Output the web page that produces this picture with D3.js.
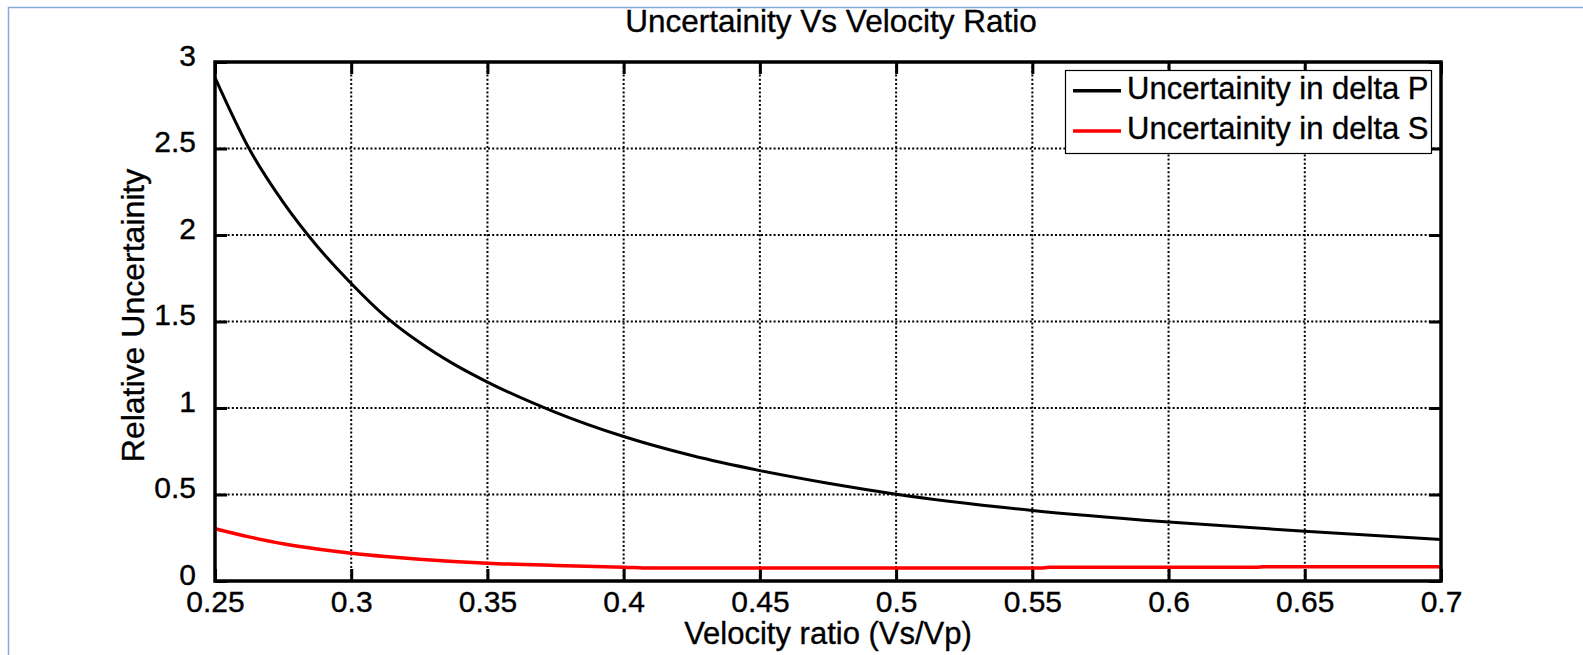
<!DOCTYPE html>
<html>
<head>
<meta charset="utf-8">
<script src="https://cdn.jsdelivr.net/npm/d3@7"></script>
<style>
    body { margin: 0; background: #fff; }
    svg { display: block; font-family: "Liberation Sans", Arial, Helvetica, sans-serif; }
    text { stroke: #000; stroke-width: 0.35px; }
</style>
</head>
<body>
<svg id="chart"></svg>
<script>
// values
const pRatio = [0.25, 0.2625, 0.275, 0.2875, 0.3, 0.3125, 0.325, 0.3375, 0.35, 0.375, 0.4, 0.425, 0.45, 0.475, 0.5, 0.55, 0.6, 0.65, 0.7];
const pUncert = [2.91, 2.50, 2.19, 1.935, 1.72, 1.53, 1.38, 1.255, 1.15, 0.975, 0.835, 0.725, 0.638, 0.565, 0.502, 0.408, 0.341, 0.287, 0.240];

const sRatio = [0.25, 0.2625, 0.275, 0.2875, 0.3, 0.3125, 0.325, 0.3375, 0.35, 0.375, 0.4, 0.41, 0.5, 0.553, 0.556, 0.632, 0.635, 0.7];
const sUncert = [0.302, 0.255, 0.215, 0.185, 0.161, 0.142, 0.126, 0.113, 0.103, 0.09, 0.08, 0.075, 0.075, 0.075, 0.079, 0.079, 0.083, 0.083];

const xTicks = [0.25, 0.3, 0.35, 0.4, 0.45, 0.5, 0.55, 0.6, 0.65, 0.7];
const yTicks = [0, 0.5, 1, 1.5, 2, 2.5, 3];
const xTickLabels = ["0.25", "0.3", "0.35", "0.4", "0.45", "0.5", "0.55", "0.6", "0.65", "0.7"];
const yTickLabels = ["0", "0.5", "1", "1.5", "2", "2.5", "3"];

const seriesNames = ["Uncertainity in delta P", "Uncertainity in delta S"];
const seriesColors = ["#000000", "#ff0000"];

const W = 1583, H = 655;
const margin = { top: 62, right: 142, bottom: 74, left: 215 };
const width = W - margin.left - margin.right;
const height = H - margin.top - margin.bottom;

const svg = d3.select("#chart").attr("width", W).attr("height", H);

// light blue frame around the figure
svg.append("rect")
    .attr("x", 8.5).attr("y", 7.5)
    .attr("width", W + 20).attr("height", H + 20)
    .attr("fill", "none").attr("stroke", "#86abdb").attr("stroke-width", 1.5);

const g = svg.append("g").attr("transform", `translate(${margin.left}, ${margin.top})`);

const x = d3.scaleLinear().domain([0.25, 0.7]).range([0, width]);
const y = d3.scaleLinear().domain([0, 3]).range([height, 0]);

// dotted grid
g.append("g").selectAll("line").data(xTicks.slice(1, -1)).join("line")
    .attr("x1", d => x(d)).attr("x2", d => x(d))
    .attr("y1", 0).attr("y2", height)
    .attr("stroke", "#000").attr("stroke-width", 2).attr("stroke-dasharray", "2,2.2");
g.append("g").selectAll("line").data(yTicks.slice(1, -1)).join("line")
    .attr("x1", 0).attr("x2", width)
    .attr("y1", d => y(d)).attr("y2", d => y(d))
    .attr("stroke", "#000").attr("stroke-width", 2).attr("stroke-dasharray", "2,2.2");

// axes, ticks pointing inward
const tickLen = 12;
const xAxis = g.append("g").attr("transform", `translate(0, ${height})`)
    .call(d3.axisBottom(x).tickValues(xTicks).tickSize(-tickLen).tickPadding(28)
        .tickFormat((d, i) => xTickLabels[i]));
const xAxisTop = g.append("g")
    .call(d3.axisTop(x).tickValues(xTicks).tickSize(-tickLen).tickFormat(""));
const yAxis = g.append("g")
    .call(d3.axisLeft(y).tickValues(yTicks).tickSize(-tickLen).tickPadding(tickLen + 7)
        .tickFormat((d, i) => yTickLabels[i]));
const yAxisRight = g.append("g").attr("transform", `translate(${width}, 0)`)
    .call(d3.axisRight(y).tickValues(yTicks).tickSize(-tickLen).tickFormat(""));

[xAxis, xAxisTop, yAxis, yAxisRight].forEach(a => {
    a.select(".domain").remove();
    a.selectAll(".tick line").attr("stroke", "#000").attr("stroke-width", 3);
    a.selectAll(".tick text").attr("fill", "#000").attr("font-size", 30)
        .attr("font-family", "'Liberation Sans', Arial, Helvetica, sans-serif");
});
yAxis.selectAll(".tick text").attr("dy", "0.1em");
xAxis.selectAll(".tick text").attr("dy", "0.1em");

// curves
const line = d3.line().x(d => x(d[0])).y(d => y(d[1])).curve(d3.curveMonotoneX);
const pData = pRatio.map((r, i) => [r, pUncert[i]]);
const sData = sRatio.map((r, i) => [r, sUncert[i]]);

g.append("path").datum(sData)
    .attr("d", line).attr("fill", "none")
    .attr("stroke", seriesColors[1]).attr("stroke-width", 3.5);
g.append("path").datum(pData)
    .attr("d", line).attr("fill", "none")
    .attr("stroke", seriesColors[0]).attr("stroke-width", 3);

// axes box
g.append("rect")
    .attr("x", 0).attr("y", 0).attr("width", width).attr("height", height)
    .attr("fill", "none").attr("stroke", "#000").attr("stroke-width", 3.5);

// legend
const legend = svg.append("g").attr("transform", "translate(1065, 70)");
legend.append("rect")
    .attr("x", 0.5).attr("y", 0.5).attr("width", 366).attr("height", 83)
    .attr("fill", "#fff").attr("stroke", "#000").attr("stroke-width", 1.2);
seriesNames.forEach((name, i) => {
    const row = legend.append("g").attr("transform", `translate(0, ${20.7 + i * 40.3})`);
    row.append("line")
        .attr("x1", 8).attr("x2", 56).attr("y1", 0).attr("y2", 0)
        .attr("stroke", seriesColors[i]).attr("stroke-width", 3.5);
    row.append("text")
        .attr("x", 62).attr("y", 8)
        .attr("font-size", 31).attr("fill", "#000")
        .text(name);
});

// title and axis labels
svg.append("text")
    .attr("x", margin.left + width / 2 + 3).attr("y", 32)
    .attr("text-anchor", "middle").attr("font-size", 31.5)
    .text("Uncertainity Vs Velocity Ratio");

svg.append("text")
    .attr("x", margin.left + width / 2).attr("y", 644)
    .attr("text-anchor", "middle").attr("font-size", 31)
    .text("Velocity ratio (Vs/Vp)");

svg.append("text")
    .attr("transform", `translate(144, ${margin.top + height / 2 - 6}) rotate(-90)`)
    .attr("text-anchor", "middle").attr("font-size", 32)
    .text("Relative Uncertainity");
</script>
</body>
</html>
